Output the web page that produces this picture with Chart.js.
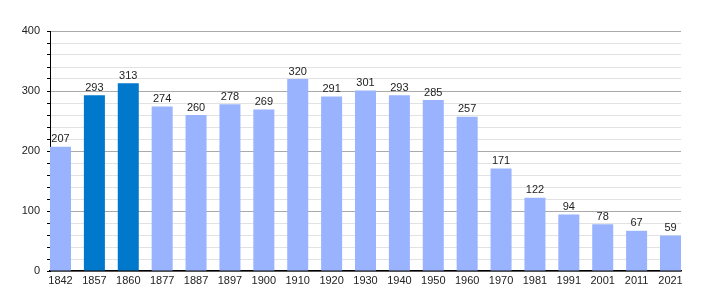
<!DOCTYPE html>
<html>
<head>
<meta charset="utf-8">
<script src="https://cdn.jsdelivr.net/npm/chart.js@4/dist/chart.umd.min.js"></script>
<style>
  body { margin: 0; background: #fff; }
</style>
</head>
<body>
<canvas id="chart" width="710" height="300"></canvas>
<script>
// population by census year
const years = ['1842', '1857', '1860', '1877', '1887', '1897', '1900', '1910', '1920', '1930',
  '1940', '1950', '1960', '1970', '1981', '1991', '2001', '2011', '2021'];
const population = [207, 293, 313, 274, 260, 278, 269, 320, 291, 301,
  293, 285, 257, 171, 122, 94, 78, 67, 59];
const highlighted = ['1857', '1860'];

const LIGHT = '#99b3ff';
const DARK = '#0079cc';

// draws the value over every bar
const valueLabels = {
  id: 'valueLabels',
  afterDatasetsDraw(chart) {
    const ctx = chart.ctx;
    const meta = chart.getDatasetMeta(0);
    ctx.save();
    ctx.font = '11px "Liberation Sans", Arial, sans-serif';
    ctx.fillStyle = '#222';
    ctx.textAlign = 'center';
    ctx.textBaseline = 'bottom';
    meta.data.forEach((bar, i) => {
      ctx.fillText(String(population[i]), bar.x, bar.y - 2);
    });
    ctx.restore();
  }
};

const points = population.map((v, i) => ({ x: i, y: v }));

new Chart(document.getElementById('chart'), {
  type: 'bar',
  data: {
    datasets: [{
      data: points,
      backgroundColor: years.map(y => highlighted.includes(y) ? DARK : LIGHT),
      barPercentage: 0.62,
      categoryPercentage: 1,
    }]
  },
  options: {
    responsive: false,
    animation: false,
    layout: { padding: { left: 0, right: 29, top: 31, bottom: 0 } },
    plugins: {
      legend: { display: false },
      tooltip: { enabled: false },
    },
    scales: {
      x: {
        type: 'linear',
        min: -0.31,
        max: 18.31,
        offset: false,
        afterBuildTicks: s => { s.ticks = years.map((_, i) => ({ value: i })); },
        afterFit: s => { s.height = 29; },
        grid: { display: false, drawTicks: false },
        border: { color: '#000', width: 1.5 },
        ticks: {
          callback: v => years[v] ?? '',
          autoSkip: false,
          maxRotation: 0,
          padding: 3,
          color: '#222',
          font: { family: '"Liberation Sans", Arial, sans-serif', size: 11 },
        },
      },
      y: {
        min: 0,
        max: 400,
        afterFit: s => { s.width = 50; },
        grid: {
          color: c => c.tick.value % 100 === 0 ? '#aaa' : '#e2e2e2',
          tickColor: '#000',
          tickLength: 3,
        },
        border: { color: '#000', width: 1 },
        ticks: {
          stepSize: 20,
          autoSkip: false,
          padding: 7,
          callback: v => v % 100 === 0 ? v : '',
          color: '#222',
          font: { family: '"Liberation Sans", Arial, sans-serif', size: 11 },
        },
      },
    },
  },
  plugins: [valueLabels],
});
</script>
</body>
</html>
